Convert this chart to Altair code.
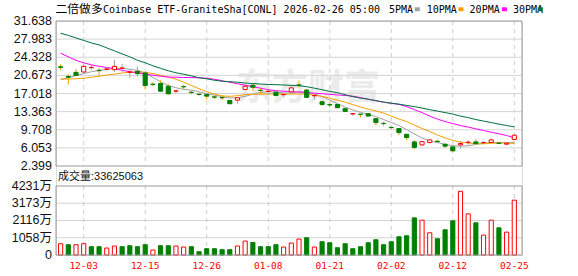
import altair as alt
import pandas as pd

# ---------------- data ----------------
dates = ["11-28", "12-01", "12-02", "12-03", "12-04", "12-05", "12-08", "12-09", "12-10", "12-11",
         "12-12", "12-15", "12-16", "12-17", "12-18", "12-19", "12-22", "12-23", "12-24", "12-26",
         "12-29", "12-30", "12-31", "01-02", "01-05", "01-06", "01-07", "01-08", "01-09", "01-12",
         "01-13", "01-14", "01-15", "01-16", "01-20", "01-21", "01-22", "01-23", "01-26", "01-27",
         "01-28", "01-29", "01-30", "02-02", "02-03", "02-04", "02-05", "02-06", "02-09", "02-10",
         "02-11", "02-12", "02-13", "02-17", "02-18", "02-19", "02-20", "02-23", "02-24", "02-25"]

opens = [22.40, 20.45, 21.28, 21.36, 22.22, 21.70, 21.90, 21.82, 22.10, 21.30,
         21.49, 21.16, 18.90, 19.02, 18.48, 17.50, 18.42, 17.28, 16.88, 16.82,
         16.34, 16.20, 15.62, 15.67, 17.82, 18.68, 17.68, 17.42, 17.28, 16.78,
         17.35, 18.74, 17.72, 16.56, 15.35, 14.78, 14.81, 13.95, 12.90, 12.85,
         12.95, 11.95, 11.00, 10.20, 9.95, 8.80, 7.26, 6.66, 7.14, 7.38,
         6.80, 6.26, 6.66, 7.15, 7.26, 7.10, 7.14, 7.00, 6.80, 7.74]
highs = [22.94, 20.93, 21.95, 22.83, 22.97, 22.16, 22.29, 23.83, 22.97, 21.82,
         22.49, 21.36, 19.28, 19.68, 18.96, 17.62, 18.82, 17.62, 17.08, 16.82,
         16.42, 16.55, 15.67, 16.22, 19.02, 18.96, 18.02, 18.02, 17.48, 16.95,
         18.48, 19.62, 17.98, 16.98, 15.57, 15.17, 14.85, 14.00, 12.98, 12.88,
         13.05, 12.05, 11.35, 10.27, 10.05, 8.85, 7.60, 7.40, 7.80, 7.74,
         6.85, 6.30, 7.40, 7.60, 7.80, 7.46, 8.00, 7.30, 7.10, 8.94]
lows = [21.73, 18.79, 20.60, 21.16, 21.82, 20.62, 21.62, 21.36, 21.36, 20.16,
        20.48, 17.88, 18.48, 17.42, 16.82, 17.08, 17.88, 16.82, 16.55, 15.81,
        15.88, 15.67, 14.90, 14.95, 17.62, 17.48, 16.95, 16.82, 16.35, 16.28,
        17.08, 18.28, 16.20, 15.84, 14.51, 14.23, 14.10, 13.35, 12.56, 12.22,
        12.40, 10.61, 10.41, 9.80, 8.60, 7.60, 5.80, 6.40, 6.93, 7.06,
        6.06, 5.26, 5.94, 6.66, 6.93, 6.80, 7.14, 6.80, 6.65, 7.60]
closes = [22.30, 20.30, 20.68, 22.49, 22.29, 21.62, 21.96, 22.49, 22.16, 21.36,
          21.02, 18.62, 18.82, 17.48, 16.95, 17.55, 18.36, 17.22, 16.82, 16.48,
          16.28, 16.15, 14.95, 16.15, 18.48, 18.28, 17.62, 17.48, 16.62, 16.82,
          18.15, 18.68, 16.24, 16.62, 14.81, 14.70, 14.15, 13.41, 12.95, 12.81,
          12.47, 11.15, 10.94, 10.14, 9.14, 8.13, 6.14, 7.32, 7.66, 7.32,
          6.40, 5.46, 6.93, 7.20, 6.93, 7.14, 7.66, 6.95, 7.00, 8.60]

# volume in 万 shares, and whether the bar is drawn red (up vs previous close)
volumes = [692, 631, 631, 692, 509, 509, 427, 549, 509, 570,
           509, 631, 305, 570, 570, 549, 488, 509, 203, 386,
           386, 325, 325, 549, 854, 773, 509, 509, 631, 488,
           732, 976, 1058, 488, 814, 753, 447, 692, 386, 509,
           753, 936, 631, 814, 1119, 1180, 2278, 2136, 1363, 997,
           1546, 2095, 3905, 2522, 1973, 1220, 2136, 1668, 1403, 3362]
vol_up = [1, 0, 1, 1, 0, 0, 1, 1, 0, 0,
          0, 0, 1, 0, 0, 1, 1, 0, 0, 0,
          0, 0, 0, 1, 1, 0, 0, 0, 0, 1,
          1, 1, 0, 1, 0, 0, 0, 0, 0, 0,
          0, 0, 0, 0, 0, 0, 0, 1, 1, 0,
          0, 0, 1, 1, 0, 1, 1, 0, 1, 1]

ma5 = [19.82, 20.22, 20.62, 21.02, 21.42, 21.66, 21.90, 22.06, 22.10, 21.90,
       21.70, 21.14, 20.29, 19.39, 18.59, 18.19, 17.85, 17.70, 17.38, 16.98,
       16.68, 16.38, 16.12, 16.18, 16.44, 16.88, 17.24, 17.38, 17.32, 17.12,
       17.12, 17.38, 17.24, 16.98, 16.38, 15.67, 14.97, 14.27, 13.71, 13.22,
       12.82, 12.36, 11.76, 11.16, 10.55, 9.75, 8.85, 8.04, 7.44, 7.14,
       6.74, 6.48, 6.40, 6.48, 6.74, 7.00, 7.14, 7.14, 7.10, 7.20]
ma10 = [19.93, 19.93, 19.99, 20.09, 20.29, 20.50, 20.73, 20.94, 21.14, 21.30,
        21.36, 21.30, 21.04, 20.70, 20.33, 19.89, 19.29, 18.63, 17.98, 17.38,
        16.88, 16.54, 16.44, 16.58, 16.78, 16.84, 16.88, 16.92, 16.92, 16.92,
        16.92, 16.92, 16.88, 16.68, 16.44, 16.08, 15.68, 15.27, 14.77, 14.31,
        13.87, 13.51, 13.07, 12.46, 11.86, 11.36, 10.65, 9.95, 9.35, 8.65,
        8.08, 7.54, 7.24, 7.04, 6.88, 6.88, 6.98, 7.04, 7.04, 6.94]
ma20 = [25.15, 24.41, 23.71, 23.20, 22.80, 22.50, 22.26, 22.00, 21.70, 21.40,
        21.20, 20.94, 20.70, 20.50, 20.33, 20.29, 20.25, 20.23, 20.19, 20.09,
        19.89, 19.59, 19.29, 18.99, 18.69, 18.39, 18.09, 17.78, 17.58, 17.48,
        17.38, 17.32, 17.22, 17.08, 16.98, 16.84, 16.72, 16.62, 16.48, 16.18,
        15.88, 15.57, 15.27, 15.03, 14.83, 14.37, 13.77, 13.17, 12.46, 11.86,
        11.36, 10.96, 10.55, 10.25, 9.89, 9.55, 9.21, 8.89, 8.55, 8.08]
ma30 = [29.17, 28.73, 28.22, 27.72, 27.22, 26.82, 26.22, 25.62, 25.01, 24.41,
        23.71, 23.21, 22.60, 22.10, 21.60, 21.20, 20.90, 20.59, 20.19, 19.99,
        19.69, 19.49, 19.39, 19.29, 19.13, 19.03, 18.93, 18.85, 18.79, 18.73,
        18.65, 18.59, 18.39, 18.09, 17.78, 17.44, 17.18, 16.78, 16.38, 16.08,
        15.88, 15.57, 15.27, 15.07, 14.87, 14.62, 14.37, 14.07, 13.77, 13.47,
        13.17, 12.87, 12.46, 12.16, 11.76, 11.46, 11.16, 10.85, 10.55, 10.29]

price_ticks = [31.638, 27.983, 24.328, 20.673, 17.018, 13.363, 9.708, 6.053, 2.399]
vol_ticks = [4231, 3173, 2116, 1058, 0]
vol_tick_labels = ["4231万", "3173万", "2116万", "1058万", "0"]
date_ticks = ["12-03", "12-15", "12-26", "01-08", "01-21", "02-02", "02-12", "02-25"]
last_volume = "33625063"
ma_names = ["5PMA", "10PMA", "20PMA", "30PMA"]
ma_colors = ["#a0a0a0", "#f5a000", "#ff00ff", "#00703c"]
title_cn = "二倍做多"
title_en = "Coinbase ETF-GraniteSha[CONL] 2026-02-26 05:00"

# ---------------- layout ----------------
W, H = 466, 234
MAIN_H = 145          # main panel height (px)
VOL_TOP = 165         # volume panel top (px)
RED, GREEN = "#ff0000", "#008000"
GRID = "#d4d4d4"
FRAME = "#9a9a9a"

n = len(dates)
idx = list(range(n))
PX = alt.Scale(domain=[-0.6, 60.0], range=[0, W], nice=False, zero=False)
PY = alt.Scale(domain=[2.399, 31.638], range=[MAIN_H, 0], nice=False, zero=False)
VY = alt.Scale(domain=[0, 4231], range=[H, VOL_TOP], nice=False, zero=False)

hw = 0.27
candles = pd.DataFrame({
    "i": idx, "date": dates, "open": opens, "high": highs, "low": lows, "close": closes,
    "x1": [i - hw for i in idx], "x2": [i + hw for i in idx],
    "dir": ["up" if c >= o else "down" for o, c in zip(opens, closes)],
})
vol = pd.DataFrame({
    "i": idx, "vol": volumes, "zero": [0] * n,
    "x1": [i - hw for i in idx], "x2": [i + hw for i in idx],
    "dir": ["up" if u else "down" for u in vol_up],
})
ma_long = pd.DataFrame(
    [{"i": i, "ma": name, "v": vals[i]}
     for name, vals in zip(ma_names, [ma5, ma10, ma20, ma30]) for i in idx])

one = pd.DataFrame({"k": [0]})
dir_fill = alt.Scale(domain=["up", "down"], range=["#ffffff", GREEN])
dir_stroke = alt.Scale(domain=["up", "down"], range=[RED, GREEN])

# watermark
watermark = alt.Chart(one).mark_text(
    text="东方财富", font="Noto Sans CJK SC", fontSize=36, fontWeight="bold",
    color="#ebebeb", align="center", baseline="middle"
).encode(x=alt.value(252), y=alt.value(68))

# horizontal grid lines
pgrid = alt.Chart(pd.DataFrame({"v": price_ticks[1:-1]})).mark_rule(
    color=GRID, strokeWidth=1).encode(
    y=alt.Y("v:Q", scale=PY, axis=None), x=alt.value(0), x2=alt.value(W))
vgrid = alt.Chart(pd.DataFrame({"v": vol_ticks[1:-1]})).mark_rule(
    color=GRID, strokeWidth=1).encode(
    y=alt.Y("v:Q", scale=VY, axis=None), x=alt.value(0), x2=alt.value(W))

tick_df = pd.DataFrame({"i": [dates.index(d) for d in date_ticks], "label": date_ticks})
vdash_main = alt.Chart(tick_df).mark_rule(color="#cccccc", strokeDash=[4, 4]).encode(
    x=alt.X("i:Q", scale=PX, axis=None), y=alt.value(0), y2=alt.value(MAIN_H))
vdash_vol = alt.Chart(tick_df).mark_rule(color="#cccccc", strokeDash=[4, 4]).encode(
    x=alt.X("i:Q", scale=PX, axis=None), y=alt.value(VOL_TOP), y2=alt.value(H))

# moving averages
ma_lines = alt.Chart(ma_long).mark_line(strokeWidth=1).encode(
    x=alt.X("i:Q", scale=PX, axis=None),
    y=alt.Y("v:Q", scale=PY, axis=None),
    color=alt.Color("ma:N", scale=alt.Scale(domain=ma_names, range=ma_colors), legend=None),
)

# candles
wicks = alt.Chart(candles).mark_rule(strokeWidth=1).encode(
    x=alt.X("i:Q", scale=PX, axis=None),
    y=alt.Y("low:Q", scale=PY, axis=None), y2="high:Q",
    color=alt.Color("dir:N", scale=dir_stroke, legend=None),
)
bodies = alt.Chart(candles).mark_rect(strokeWidth=1).encode(
    x=alt.X("x1:Q", scale=PX, axis=None), x2="x2:Q",
    y=alt.Y("open:Q", scale=PY, axis=None), y2="close:Q",
    fill=alt.Fill("dir:N", scale=dir_fill, legend=None),
    stroke=alt.Stroke("dir:N", scale=dir_stroke, legend=None),
)

# volume bars
vbars = alt.Chart(vol).mark_rect(strokeWidth=1).encode(
    x=alt.X("x1:Q", scale=PX, axis=None), x2="x2:Q",
    y=alt.Y("vol:Q", scale=VY, axis=None), y2="zero:Q",
    fill=alt.Fill("dir:N", scale=dir_fill, legend=None),
    stroke=alt.Stroke("dir:N", scale=dir_stroke, legend=None),
)

# frames
frame_main = alt.Chart(one).mark_rect(fillOpacity=0, stroke=FRAME, strokeWidth=1).encode(
    x=alt.value(0), x2=alt.value(W), y=alt.value(0), y2=alt.value(MAIN_H))
frame_vol = alt.Chart(one).mark_rect(fillOpacity=0, stroke=FRAME, strokeWidth=1).encode(
    x=alt.value(0), x2=alt.value(W), y=alt.value(VOL_TOP), y2=alt.value(H))

# axis labels
LBL_FONT = "Liberation Sans, Noto Sans CJK SC"
plabels = alt.Chart(pd.DataFrame({"v": price_ticks, "t": [f"{v:.3f}" for v in price_ticks]})).mark_text(
    align="right", baseline="middle", font=LBL_FONT, fontSize=12.5, color="#111111").encode(
    y=alt.Y("v:Q", scale=PY, axis=None), x=alt.value(-4), text="t:N")
vlabels = alt.Chart(pd.DataFrame({"v": vol_ticks, "t": vol_tick_labels})).mark_text(
    align="right", baseline="middle", font=LBL_FONT, fontSize=12.5, color="#111111").encode(
    y=alt.Y("v:Q", scale=VY, axis=None), x=alt.value(-4), text="t:N")
dlabels = alt.Chart(tick_df).mark_text(
    align="center", baseline="middle", font="DejaVu Sans Mono", fontSize=9.5, color=RED).encode(
    x=alt.X("i:Q", scale=PX, axis=None), y=alt.value(245), text="label:N")

vol_title = alt.Chart(one).mark_text(
    text="成交量:" + last_volume, align="left", baseline="middle", font=LBL_FONT,
    fontSize=11, color="#111111").encode(x=alt.value(2), y=alt.value(155.5))

# title
def txt(t, x, font, size):
    return alt.Chart(one).mark_text(
        text=t, align="left", baseline="alphabetic", font=font, fontSize=size, color="#000000"
    ).encode(x=alt.value(x), y=alt.value(-8.0))

title_parts = [txt(title_cn, -0.5, "Noto Sans CJK SC", 11.8),
               txt(title_en, 47, "DejaVu Sans Mono", 10)]
lab_x = [332.9, 370.7, 413.6, 457]
sq_x = [358.8, 402.5, 445.9, 481.8]
legend_layers = []
for name, col, lx, sx in zip(ma_names, ma_colors, lab_x, sq_x):
    legend_layers.append(txt(name, lx, "DejaVu Sans Mono", 10))
    legend_layers.append(alt.Chart(one).mark_rect(color=col).encode(
        x=alt.value(sx), x2=alt.value(sx + 5), y=alt.value(-13.7), y2=alt.value(-9.8)))

chart = alt.layer(
    watermark, pgrid, vgrid, vdash_main, vdash_vol, ma_lines, wicks, bodies, vbars,
    frame_main, frame_vol, plabels, vlabels, dlabels, vol_title, *title_parts, *legend_layers
).resolve_scale(y="independent").properties(
    width=W, height=H,
    padding={"left": 56, "right": 56, "top": 21, "bottom": 21},
    autosize=alt.AutoSizeParams(type="none"),
).configure_view(strokeWidth=0).configure(background="#ffffff")

chart.save("out.html", embed_options={"renderer": "svg", "actions": False})
